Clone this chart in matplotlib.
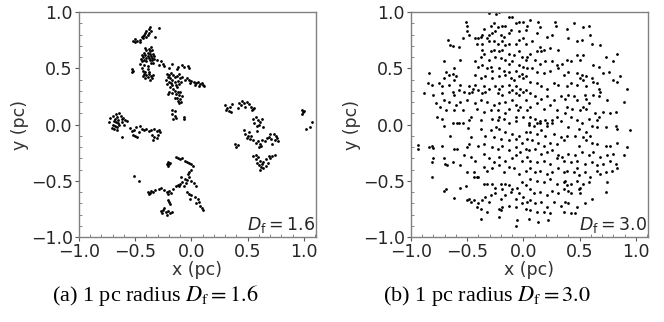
import numpy as np
import matplotlib
matplotlib.use("Agg")
import matplotlib.pyplot as plt
from matplotlib.ticker import MultipleLocator

# fractal cloud, D_f = 1.6 (positions in pc)
clumpy_xy = [
    # top streak
    (-0.29, 0.86), (-0.37, 0.87), (-0.38, 0.85), (-0.40, 0.83), (-0.38, 0.81), (-0.41, 0.81),
    (-0.43, 0.79), (-0.44, 0.78), (-0.46, 0.75), (-0.48, 0.74), (-0.50, 0.76), (-0.52, 0.74),
    (-0.40, 0.78), (-0.32, 0.78), (-0.43, 0.77), (-0.46, 0.73), (-0.36, 0.83), (-0.50, 0.73),
    (-0.39, 0.80), (-0.42, 0.80),
    # dense blob
    (-0.36, 0.69), (-0.38, 0.67), (-0.40, 0.66), (-0.35, 0.66), (-0.42, 0.64), (-0.39, 0.64),
    (-0.37, 0.63), (-0.34, 0.63), (-0.44, 0.62), (-0.41, 0.62), (-0.39, 0.61), (-0.36, 0.61),
    (-0.33, 0.61), (-0.43, 0.60), (-0.40, 0.59), (-0.38, 0.59), (-0.35, 0.59), (-0.45, 0.58),
    (-0.42, 0.57), (-0.37, 0.57), (-0.33, 0.58), (-0.44, 0.56), (-0.40, 0.56), (-0.36, 0.55),
    (-0.31, 0.57), (-0.27, 0.56), (-0.25, 0.54), (-0.29, 0.53), (-0.46, 0.54), (-0.42, 0.53),
    (-0.39, 0.52), (-0.34, 0.55), (-0.37, 0.65), (-0.41, 0.68), (-0.35, 0.57),
    (-0.44, 0.50), (-0.43, 0.48), (-0.41, 0.47), (-0.39, 0.49), (-0.42, 0.45), (-0.40, 0.44),
    (-0.38, 0.45), (-0.36, 0.43), (-0.39, 0.42), (-0.41, 0.41), (-0.37, 0.40), (-0.35, 0.41),
    (-0.43, 0.43), (-0.38, 0.47), (-0.34, 0.44), (-0.53, 0.49), (-0.53, 0.47), (-0.52, 0.48),
    # middle clump
    (-0.24, 0.52), (-0.20, 0.50), (-0.17, 0.54), (-0.12, 0.51), (-0.08, 0.53), (-0.07, 0.51),
    (-0.13, 0.49), (-0.03, 0.52), (-0.02, 0.50), (-0.22, 0.45), (-0.20, 0.44), (-0.18, 0.46),
    (-0.16, 0.44), (-0.21, 0.42), (-0.19, 0.41), (-0.17, 0.40), (-0.15, 0.42), (-0.13, 0.43),
    (-0.11, 0.45), (-0.23, 0.40), (-0.20, 0.38), (-0.18, 0.37), (-0.15, 0.38), (-0.12, 0.39),
    (-0.10, 0.41), (-0.08, 0.42), (-0.22, 0.36), (-0.17, 0.35), (-0.14, 0.35), (-0.11, 0.36),
    (-0.09, 0.38), (-0.06, 0.40), (-0.04, 0.41), (-0.02, 0.40), (0.00, 0.39), (0.02, 0.38),
    (0.04, 0.37), (0.06, 0.38), (0.08, 0.36), (0.10, 0.35), (0.11, 0.34), (0.03, 0.35),
    (0.07, 0.34), (-0.01, 0.37), (0.09, 0.37), (-0.19, 0.33), (-0.16, 0.32), (-0.13, 0.33),
    (-0.15, 0.30), (-0.12, 0.29), (-0.17, 0.28), (-0.14, 0.27), (-0.11, 0.26), (-0.13, 0.24),
    (-0.10, 0.23), (-0.12, 0.21), (-0.09, 0.20), (-0.15, 0.24), (-0.10, 0.29), (-0.20, 0.29),
    (-0.21, 0.27), (-0.08, 0.25), (-0.11, 0.19),
    (-0.17, 0.13), (-0.15, 0.12), (-0.17, 0.09), (-0.15, 0.08), (-0.16, 0.05), (-0.14, 0.06),
    (-0.07, 0.07), (-0.07, 0.05),
    # left clump
    (-0.72, 0.06), (-0.70, 0.08), (-0.68, 0.05), (-0.66, 0.07), (-0.64, 0.10), (-0.63, 0.08),
    (-0.61, 0.06), (-0.59, 0.04), (-0.69, 0.03), (-0.67, 0.02), (-0.65, 0.04), (-0.62, 0.02),
    (-0.60, 0.00), (-0.70, 0.00), (-0.68, -0.01), (-0.66, -0.02), (-0.64, 0.00), (-0.71, -0.03),
    (-0.69, -0.04), (-0.65, 0.01), (-0.67, 0.09), (-0.62, 0.05), (-0.57, 0.03), (-0.73, 0.02),
    (-0.62, -0.11), (-0.66, -0.05),
    (-0.55, -0.03), (-0.53, -0.06), (-0.51, -0.05), (-0.52, -0.09), (-0.50, -0.10), (-0.48, -0.11),
    (-0.47, -0.07), (-0.44, -0.04), (-0.42, -0.05), (-0.40, -0.04), (-0.38, -0.06), (-0.36, -0.05),
    (-0.33, -0.04), (-0.31, -0.06), (-0.29, -0.05), (-0.35, -0.09), (-0.33, -0.11), (-0.34, -0.14),
    (-0.31, -0.12), (-0.28, -0.07), (-0.30, -0.09), (-0.49, -0.02), (-0.46, -0.01),
    # bottom clump
    (-0.21, -0.33), (-0.20, -0.35), (-0.22, -0.35), (-0.21, -0.37), (-0.19, -0.34),
    (-0.14, -0.29), (-0.12, -0.30), (-0.10, -0.31), (-0.08, -0.30), (-0.06, -0.32), (-0.04, -0.33),
    (-0.02, -0.34), (0.00, -0.35), (0.01, -0.37), (0.00, -0.40), (-0.02, -0.42), (-0.03, -0.44),
    (-0.09, -0.47), (-0.06, -0.48), (-0.04, -0.49), (-0.02, -0.47), (0.00, -0.50), (0.02, -0.52),
    (-0.08, -0.51), (-0.10, -0.53), (-0.05, -0.52), (0.04, -0.55), (-0.11, -0.55), (-0.07, -0.55),
    (-0.04, -0.60), (-0.02, -0.62), (0.00, -0.63), (0.03, -0.64), (0.06, -0.66), (0.07, -0.69),
    (0.08, -0.72), (0.09, -0.74), (0.10, -0.76), (-0.01, -0.66), (0.04, -0.70),
    (-0.39, -0.60), (-0.37, -0.61), (-0.36, -0.59), (-0.38, -0.62), (-0.34, -0.60), (-0.32, -0.58),
    (-0.29, -0.57), (-0.27, -0.56), (-0.24, -0.58), (-0.22, -0.60), (-0.20, -0.59), (-0.18, -0.61),
    (-0.16, -0.57), (-0.14, -0.55), (-0.12, -0.54), (-0.21, -0.62), (-0.21, -0.67), (-0.20, -0.69),
    (-0.19, -0.71), (-0.27, -0.77), (-0.25, -0.76), (-0.23, -0.78), (-0.21, -0.77), (-0.19, -0.79),
    (-0.26, -0.79), (-0.22, -0.80), (-0.17, -0.78), (-0.24, -0.74), (-0.51, -0.46), (-0.47, -0.50),
    # right clumps
    (0.30, 0.17), (0.32, 0.15), (0.34, 0.16), (0.31, 0.13), (0.33, 0.12), (0.36, 0.18), (0.35, 0.11),
    (0.42, 0.19), (0.44, 0.17), (0.45, 0.21), (0.47, 0.19), (0.49, 0.20), (0.51, 0.18), (0.53, 0.16),
    (0.55, 0.14), (0.56, 0.15), (0.54, 0.13), (0.48, 0.16), (0.41, 0.15),
    (0.55, 0.05), (0.57, 0.07), (0.59, 0.04), (0.61, 0.02), (0.63, 0.05), (0.60, 0.00), (0.58, -0.01),
    (0.64, -0.02), (0.56, 0.01), (0.47, -0.05), (0.48, -0.08), (0.50, -0.10), (0.49, -0.12),
    (0.52, -0.13), (0.51, -0.07), (0.53, -0.10), (0.55, -0.14), (0.57, -0.16), (0.59, -0.15),
    (0.61, -0.17), (0.63, -0.14), (0.65, -0.15), (0.67, -0.12), (0.69, -0.11), (0.71, -0.13),
    (0.73, -0.08), (0.75, -0.10), (0.74, -0.14), (0.72, -0.17), (0.76, -0.12), (0.77, -0.15),
    (0.60, -0.20), (0.62, -0.19), (0.58, -0.06), (0.70, -0.08), (0.39, -0.17), (0.40, -0.20),
    (0.41, -0.18),
    (0.55, -0.28), (0.57, -0.31), (0.59, -0.29), (0.61, -0.32), (0.63, -0.35), (0.62, -0.38),
    (0.60, -0.36), (0.64, -0.33), (0.66, -0.31), (0.68, -0.34), (0.70, -0.30), (0.72, -0.28),
    (0.74, -0.27), (0.66, -0.37), (0.58, -0.34), (0.61, -0.40), (0.64, -0.39), (0.57, -0.27),
    (0.69, -0.28),
    (0.98, 0.13), (0.99, 0.11), (0.98, 0.09), (1.00, 0.12), (1.02, -0.04), (1.05, -0.02), (1.07, 0.02),
]

# uniform cloud, D_f = 3.0
uniform_xy = [
    # upper left
    (-0.31, 0.99), (-0.24, 0.98), (-0.22, 1.00), (-0.13, 0.96), (-0.10, 0.96), (-0.07, 0.90),
    (-0.04, 0.91), (0.00, 0.91), (0.03, 0.88), (-0.51, 0.91), (-0.50, 0.88), (-0.50, 0.83),
    (-0.48, 0.80), (-0.29, 0.88), (-0.26, 0.90), (-0.23, 0.87), (-0.19, 0.88), (-0.16, 0.88),
    (-0.25, 0.83), (-0.28, 0.81), (-0.20, 0.80), (-0.17, 0.78), (-0.13, 0.81), (-0.11, 0.84),
    (-0.04, 0.83), (0.02, 0.84), (-0.35, 0.85), (-0.38, 0.78), (-0.37, 0.80), (-0.31, 0.80),
    (-0.32, 0.77), (-0.40, 0.77), (-0.43, 0.77), (-0.41, 0.72), (-0.37, 0.72), (-0.31, 0.74),
    (-0.26, 0.74), (-0.23, 0.72), (-0.19, 0.74), (-0.16, 0.71), (-0.13, 0.72), (-0.07, 0.72),
    (-0.04, 0.75), (0.00, 0.77), (0.02, 0.72), (-0.67, 0.75), (-0.65, 0.71), (-0.63, 0.70),
    (-0.57, 0.69), (-0.54, 0.77), (-0.37, 0.66), (-0.35, 0.63), (-0.29, 0.65), (-0.26, 0.66),
    (-0.22, 0.65), (-0.19, 0.66), (-0.13, 0.63), (-0.08, 0.62), (-0.04, 0.65), (-0.01, 0.60),
    (0.02, 0.57), (0.03, 0.60), (-0.71, 0.56), (-0.56, 0.57), (-0.43, 0.56), (-0.38, 0.60),
    (-0.31, 0.57), (-0.25, 0.60), (-0.20, 0.59), (-0.16, 0.57), (-0.13, 0.54), (-0.10, 0.56),
    (-0.04, 0.53), (0.00, 0.51), (0.03, 0.50), (-0.84, 0.46), (-0.69, 0.47), (-0.66, 0.44),
    (-0.63, 0.45), (-0.62, 0.50), (-0.40, 0.51), (-0.37, 0.53), (-0.32, 0.50), (-0.29, 0.51),
    (-0.28, 0.48), (-0.22, 0.50), (-0.17, 0.48), (-0.13, 0.47), (-0.07, 0.48), (-0.01, 0.45),
    (0.02, 0.43), (-0.71, 0.41), (-0.62, 0.40), (-0.60, 0.43), (-0.43, 0.44), (-0.38, 0.41),
    (-0.34, 0.43), (-0.28, 0.41), (-0.22, 0.43), (-0.16, 0.44), (-0.11, 0.41), (-0.08, 0.40),
    (-0.04, 0.43), (0.00, 0.41), (-0.85, 0.37), (-0.81, 0.35), (-0.75, 0.37), (-0.72, 0.34),
    (-0.66, 0.35), (-0.56, 0.35), (-0.48, 0.34), (-0.45, 0.32), (-0.43, 0.35), (-0.35, 0.34),
    (-0.31, 0.32), (-0.25, 0.34), (-0.22, 0.32), (-0.19, 0.34), (-0.13, 0.35), (-0.10, 0.31),
    (-0.07, 0.34), (-0.03, 0.32), (0.02, 0.31), (-0.88, 0.28), (-0.80, 0.26), (-0.72, 0.28),
    (-0.63, 0.29), (-0.62, 0.26), (-0.57, 0.31), (-0.53, 0.29), (-0.48, 0.28), (-0.46, 0.29),
    (-0.40, 0.31), (-0.37, 0.28), (-0.34, 0.29), (-0.23, 0.28), (-0.19, 0.26), (-0.13, 0.29),
    (-0.07, 0.28), (-0.04, 0.26), (0.00, 0.29), (-0.78, 0.19), (-0.74, 0.16), (-0.71, 0.22),
    (-0.66, 0.20), (-0.60, 0.17), (-0.56, 0.20), (-0.50, 0.22), (-0.43, 0.19), (-0.38, 0.22),
    (-0.32, 0.20), (-0.26, 0.17), (-0.22, 0.19), (-0.16, 0.20), (-0.10, 0.22), (-0.07, 0.17),
    (-0.03, 0.16), (0.02, 0.22), (-0.77, 0.07), (-0.72, 0.05), (-0.69, 0.13), (-0.62, 0.13),
    (-0.54, 0.13), (-0.47, 0.07), (-0.41, 0.14), (-0.35, 0.11), (-0.29, 0.13), (-0.23, 0.13),
    (-0.22, 0.07), (-0.16, 0.10), (-0.13, 0.14), (-0.07, 0.07), (-0.05, 0.13), (0.00, 0.07),
    (0.03, 0.13), (-0.63, 0.01), (-0.57, 0.01), (-0.48, 0.04), (-0.38, 0.04), (-0.28, 0.05),
    (-0.23, 0.04), (-0.17, 0.05), (-0.13, 0.01), (-0.07, 0.03),
    # upper right
    (0.06, 0.93), (0.13, 0.91), (0.15, 0.87), (0.28, 0.91), (0.29, 0.88), (0.45, 0.90),
    (0.53, 0.87), (0.58, 0.88), (0.39, 0.85), (0.25, 0.80), (0.21, 0.78), (0.12, 0.81),
    (0.08, 0.74), (0.40, 0.77), (0.48, 0.74), (0.52, 0.75), (0.59, 0.80), (0.61, 0.72),
    (0.68, 0.71), (0.15, 0.69), (0.16, 0.65), (0.18, 0.66), (0.12, 0.65), (0.24, 0.68),
    (0.31, 0.66), (0.06, 0.63), (0.10, 0.57), (0.15, 0.54), (0.19, 0.56), (0.25, 0.56),
    (0.30, 0.53), (0.34, 0.54), (0.39, 0.57), (0.42, 0.56), (0.48, 0.62), (0.50, 0.57),
    (0.53, 0.62), (0.62, 0.53), (0.67, 0.51), (0.73, 0.60), (0.80, 0.56), (0.83, 0.63),
    (0.08, 0.50), (0.12, 0.47), (0.18, 0.46), (0.24, 0.48), (0.31, 0.50), (0.36, 0.44),
    (0.40, 0.47), (0.48, 0.46), (0.52, 0.44), (0.50, 0.41), (0.56, 0.43), (0.61, 0.41),
    (0.62, 0.38), (0.65, 0.37), (0.71, 0.46), (0.76, 0.47), (0.80, 0.40), (0.83, 0.38),
    (0.92, 0.32), (0.06, 0.38), (0.12, 0.37), (0.16, 0.34), (0.21, 0.32), (0.27, 0.37),
    (0.31, 0.35), (0.39, 0.34), (0.42, 0.37), (0.48, 0.35), (0.53, 0.40), (0.56, 0.34),
    (0.67, 0.32), (0.68, 0.29), (0.86, 0.43), (0.06, 0.28), (0.10, 0.25), (0.16, 0.23),
    (0.21, 0.25), (0.27, 0.22), (0.33, 0.25), (0.37, 0.23), (0.40, 0.26), (0.45, 0.25),
    (0.48, 0.22), (0.55, 0.26), (0.56, 0.23), (0.58, 0.19), (0.62, 0.26), (0.67, 0.25),
    (0.74, 0.22), (0.89, 0.20), (0.06, 0.16), (0.12, 0.19), (0.18, 0.14), (0.24, 0.17),
    (0.30, 0.13), (0.39, 0.16), (0.43, 0.14), (0.50, 0.13), (0.53, 0.16), (0.56, 0.14),
    (0.64, 0.10), (0.67, 0.07), (0.71, 0.11), (0.77, 0.10), (0.82, 0.11), (0.06, 0.07),
    (0.10, 0.05), (0.15, 0.03), (0.19, 0.04), (0.25, 0.04), (0.30, 0.07), (0.33, 0.03),
    (0.37, 0.10), (0.42, 0.07), (0.48, 0.04), (0.52, 0.01), (0.58, 0.05), (0.65, 0.04),
    (0.05, 0.00), (0.12, 0.01), (0.21, 0.01),
    # lower left
    (-0.59, 0.01), (-0.54, 0.01), (-0.49, -0.03), (-0.38, -0.04), (-0.29, -0.05), (-0.24, -0.02),
    (-0.22, -0.04), (-0.16, -0.07), (-0.10, -0.08), (-0.04, -0.10), (0.02, -0.07), (-0.71, -0.01),
    (-0.65, -0.10), (-0.47, -0.11), (-0.34, -0.10), (-0.26, -0.11), (-0.20, -0.13), (-0.13, -0.14),
    (-0.07, -0.13), (-0.01, -0.16), (0.03, -0.13), (-0.94, -0.18), (-0.94, -0.22), (-0.84, -0.20),
    (-0.81, -0.19), (-0.80, -0.21), (-0.72, -0.19), (-0.62, -0.22), (-0.59, -0.22), (-0.50, -0.20),
    (-0.48, -0.17), (-0.40, -0.19), (-0.35, -0.17), (-0.28, -0.20), (-0.23, -0.22), (-0.19, -0.19),
    (-0.13, -0.23), (-0.07, -0.20), (-0.03, -0.24), (0.02, -0.22), (-0.80, -0.30), (-0.81, -0.33),
    (-0.71, -0.30), (-0.70, -0.35), (-0.68, -0.36), (-0.63, -0.33), (-0.53, -0.27), (-0.47, -0.29),
    (-0.43, -0.32), (-0.35, -0.26), (-0.31, -0.30), (-0.26, -0.33), (-0.22, -0.29), (-0.16, -0.32),
    (-0.10, -0.30), (-0.07, -0.27), (-0.01, -0.32), (0.03, -0.29), (-0.56, -0.36), (-0.50, -0.42),
    (-0.44, -0.42), (-0.41, -0.47), (-0.35, -0.38), (-0.32, -0.41), (-0.28, -0.39), (-0.22, -0.36),
    (-0.17, -0.42), (-0.13, -0.38), (-0.08, -0.39), (-0.04, -0.44), (0.02, -0.41), (-0.81, -0.47),
    (-0.71, -0.59), (-0.69, -0.57), (-0.62, -0.65), (-0.56, -0.56), (-0.51, -0.55), (-0.44, -0.47),
    (-0.40, -0.47), (-0.35, -0.53), (-0.32, -0.53), (-0.28, -0.53), (-0.25, -0.56), (-0.20, -0.53),
    (-0.19, -0.57), (-0.16, -0.53), (-0.13, -0.54), (-0.10, -0.57), (-0.06, -0.56), (-0.01, -0.51),
    (0.02, -0.54), (-0.50, -0.67), (-0.48, -0.66), (-0.47, -0.69), (-0.44, -0.67), (-0.40, -0.70),
    (-0.37, -0.67), (-0.34, -0.64), (-0.31, -0.69), (-0.29, -0.63), (-0.25, -0.61), (-0.20, -0.66),
    (-0.16, -0.63), (-0.11, -0.60), (-0.07, -0.66), (-0.04, -0.61), (0.00, -0.64), (0.03, -0.69),
    (-0.41, -0.73), (-0.38, -0.75), (-0.32, -0.78), (-0.22, -0.75), (-0.20, -0.76), (-0.19, -0.73),
    (-0.13, -0.72), (-0.07, -0.73), (-0.01, -0.70), (0.02, -0.75), (-0.22, -0.82), (-0.06, -0.85),
    (-0.07, -0.90), (-0.38, -0.84),
    # lower right
    (0.05, 0.01), (0.09, -0.01), (0.15, 0.01), (0.21, -0.01), (0.25, 0.01), (0.40, -0.02),
    (0.49, -0.04), (0.56, -0.07), (0.61, -0.01), (0.65, -0.02), (0.73, -0.02), (0.82, -0.01),
    (0.83, -0.04), (0.95, -0.05), (0.06, -0.07), (0.12, -0.08), (0.16, -0.05), (0.19, -0.10),
    (0.27, -0.08), (0.33, -0.11), (0.39, -0.10), (0.46, -0.10), (0.53, -0.11), (0.59, -0.10),
    (0.65, -0.17), (0.73, -0.19), (0.77, -0.19), (0.83, -0.16), (0.92, -0.20), (0.08, -0.14),
    (0.13, -0.16), (0.18, -0.19), (0.24, -0.16), (0.30, -0.17), (0.36, -0.14), (0.49, -0.19),
    (0.56, -0.14), (0.61, -0.16), (0.05, -0.23), (0.10, -0.22), (0.16, -0.26), (0.21, -0.24),
    (0.25, -0.23), (0.31, -0.27), (0.34, -0.29), (0.40, -0.26), (0.46, -0.27), (0.52, -0.24),
    (0.58, -0.27), (0.62, -0.24), (0.68, -0.29), (0.74, -0.27), (0.80, -0.26), (0.89, -0.27),
    (0.06, -0.32), (0.12, -0.33), (0.18, -0.32), (0.24, -0.35), (0.30, -0.30), (0.36, -0.32),
    (0.42, -0.33), (0.48, -0.32), (0.55, -0.35), (0.61, -0.33), (0.65, -0.36), (0.71, -0.35),
    (0.77, -0.32), (0.82, -0.35), (0.06, -0.39), (0.10, -0.42), (0.15, -0.41), (0.21, -0.44),
    (0.25, -0.42), (0.31, -0.39), (0.36, -0.42), (0.39, -0.41), (0.45, -0.42), (0.48, -0.39),
    (0.49, -0.45), (0.55, -0.42), (0.59, -0.47), (0.65, -0.41), (0.68, -0.44), (0.73, -0.42),
    (0.79, -0.41), (0.83, -0.39), (0.06, -0.48), (0.12, -0.50), (0.18, -0.51), (0.24, -0.48),
    (0.30, -0.53), (0.36, -0.51), (0.37, -0.50), (0.39, -0.54), (0.42, -0.53), (0.48, -0.50),
    (0.50, -0.56), (0.53, -0.53), (0.58, -0.51), (0.74, -0.51), (0.06, -0.57), (0.09, -0.61),
    (0.15, -0.60), (0.21, -0.63), (0.25, -0.59), (0.31, -0.61), (0.36, -0.57), (0.40, -0.59),
    (0.42, -0.61), (0.49, -0.57), (0.50, -0.61), (0.61, -0.66), (0.73, -0.60), (0.06, -0.67),
    (0.10, -0.70), (0.16, -0.69), (0.21, -0.73), (0.27, -0.69), (0.33, -0.72), (0.37, -0.69),
    (0.40, -0.70), (0.48, -0.73), (0.55, -0.70), (0.06, -0.76), (0.12, -0.78), (0.18, -0.78),
    (0.24, -0.79), (0.36, -0.78), (0.42, -0.79), (0.46, -0.79), (0.13, -0.87), (0.22, -0.85),
    (0.05, -0.84),
]

panels = [
    (clumpy_xy, r"$D_\mathrm{f} = 1.6$", r"(a) 1 pc radius $D_\mathrm{f} = 1.6$"),
    (uniform_xy, r"$D_\mathrm{f} = 3.0$", r"(b) 1 pc radius $D_\mathrm{f} = 3.0$"),
]

fig = plt.figure(figsize=(6.64, 3.22), dpi=100)
lefts = [79 / 664, 411 / 664]

for left, (pts, tag, caption) in zip(lefts, panels):
    ax = fig.add_axes([left, 85 / 322, 237 / 664, 225 / 322])
    xy = np.array(pts)
    ax.scatter(xy[:, 0], xy[:, 1], s=4, c="black", marker="o", linewidths=0)
    ax.set_xlim(-1.0, 1.107)
    ax.set_ylim(-1.0, 1.0)
    ax.set_xticks([-1.0, -0.5, 0.0, 0.5, 1.0])
    ax.set_yticks([-1.0, -0.5, 0.0, 0.5, 1.0])
    ax.xaxis.set_minor_locator(MultipleLocator(0.1))
    ax.yaxis.set_minor_locator(MultipleLocator(0.1))
    ax.tick_params(which="major", direction="out", length=3, width=0.8, pad=1.5,
                   labelsize=12.5, colors="0.35", labelcolor="0.15")
    ax.tick_params(which="minor", direction="in", length=2, width=0.6, colors="0.45")
    for sp in ax.spines.values():
        sp.set_color("0.5")
        sp.set_linewidth(1.0)
    ax.set_xlabel("x (pc)", fontsize=12.5, color="0.2", labelpad=-0.5)
    ax.set_ylabel("y (pc)", fontsize=12.5, color="0.2", labelpad=1)
    ax.text(0.995, 0.01, tag, transform=ax.transAxes, ha="right", va="bottom",
            fontsize=12.5, color="0.15")
    fig.text(left + 0.115, (322 - 301) / 322, caption, ha="center", va="baseline",
             fontsize=16, family="Liberation Serif", math_fontfamily="stix",
             color="black")

fig.savefig("out.png", dpi=100)
